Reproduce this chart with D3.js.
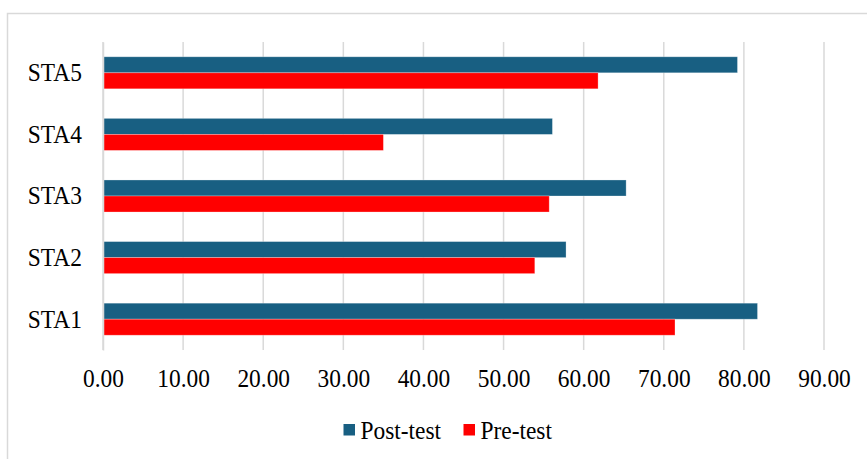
<!DOCTYPE html>
<html>
<head>
<meta charset="utf-8">
<script src="https://cdn.jsdelivr.net/npm/d3@7/dist/d3.min.js"></script>
<style>
  html, body { margin: 0; padding: 0; background: #fff; }
  svg { display: block; }
  text { font-family: "Liberation Serif", "Times New Roman", serif; fill: #000; }
</style>
</head>
<body>
<svg id="chart" width="867" height="459"></svg>
<script>
// Categories, top to bottom
const categories = ["STA5", "STA4", "STA3", "STA2", "STA1"];
// Mean scores per statement
const postTest = [79.2, 56.1, 65.3, 57.8, 81.7];
const preTest  = [61.8, 35.0, 55.7, 53.9, 71.4];
const seriesNames = ["Post-test", "Pre-test"];
const seriesColors = ["#185f82", "#ff0000"];
const xTicks = [0, 10, 20, 30, 40, 50, 60, 70, 80, 90];

(function draw() {
  const svg = d3.select("#chart");
  const W = 867, H = 459;
  const plotLeft = 103, plotRight = 824, plotTop = 42, plotBottom = 350;
  const fontSize = "26px";
  const squeeze = 0.9; // narrow serif look

  // Outer frame
  svg.append("rect")
    .attr("x", 7.5).attr("y", 13.5)
    .attr("width", W + 10).attr("height", H + 10)
    .attr("fill", "none").attr("stroke", "#d9d9d9").attr("stroke-width", 1.5);

  const x = d3.scaleLinear().domain([0, 90]).range([plotLeft, plotRight]);
  const y = d3.scaleBand().domain(categories).range([plotTop, plotBottom])
    .paddingInner(0.48).paddingOuter(0.24);
  const ySub = d3.scaleBand().domain(seriesNames).range([0, y.bandwidth()]);

  // Vertical gridlines
  svg.append("g").selectAll("line").data(xTicks).join("line")
    .attr("x1", d => x(d)).attr("x2", d => x(d))
    .attr("y1", plotTop).attr("y2", plotBottom)
    .attr("stroke", "#d9d9d9").attr("stroke-width", 1.5);

  // Bars
  const rows = categories.map((c, i) => ({ cat: c, vals: [postTest[i], preTest[i]] }));
  const groups = svg.append("g").selectAll("g").data(rows).join("g")
    .attr("transform", d => `translate(0,${y(d.cat)})`);
  groups.selectAll("rect").data(d => d.vals.map((v, j) => ({ v, s: seriesNames[j], c: seriesColors[j] })))
    .join("rect")
    .attr("x", x(0))
    .attr("y", d => ySub(d.s))
    .attr("width", d => x(d.v) - x(0))
    .attr("height", ySub.bandwidth())
    .attr("fill", d => d.c)
    .attr("stroke", "#ffffff").attr("stroke-opacity", 0.35).attr("stroke-width", 0.8);

  // Category axis
  const yAxis = svg.append("g").attr("transform", `translate(${plotLeft},0)`)
    .call(d3.axisLeft(y).tickSize(0).tickPadding(23.5));
  yAxis.select(".domain").attr("stroke", "#d9d9d9").attr("stroke-width", 1.5);
  yAxis.selectAll("text")
    .style("font-size", fontSize).style("font-family", "Liberation Serif").attr("fill", "#000")
    .attr("transform", `scale(${squeeze},1)`);

  // Value axis
  const xAxis = svg.append("g").attr("transform", `translate(0,${plotBottom})`)
    .call(d3.axisBottom(x).tickValues(xTicks).tickFormat(d3.format(".2f")).tickSize(0).tickPadding(19));
  xAxis.select(".domain").remove();
  xAxis.selectAll("text")
    .style("font-size", fontSize).style("font-family", "Liberation Serif").attr("fill", "#000")
    .attr("transform", `scale(${squeeze},1)`);

  // Legend
  const legend = svg.append("g");
  const legendItems = [
    { name: seriesNames[0], color: seriesColors[0], x: 343.5 },
    { name: seriesNames[1], color: seriesColors[1], x: 463.5 }
  ];
  legendItems.forEach(item => {
    legend.append("rect").attr("x", item.x).attr("y", 424)
      .attr("width", 11.5).attr("height", 11.5).attr("fill", item.color);
    legend.append("g").attr("transform", `translate(${item.x + 17},430) scale(${squeeze},1)`)
      .append("text").attr("dy", "0.35em").style("font-size", fontSize).text(item.name);
  });
})();
</script>
</body>
</html>
